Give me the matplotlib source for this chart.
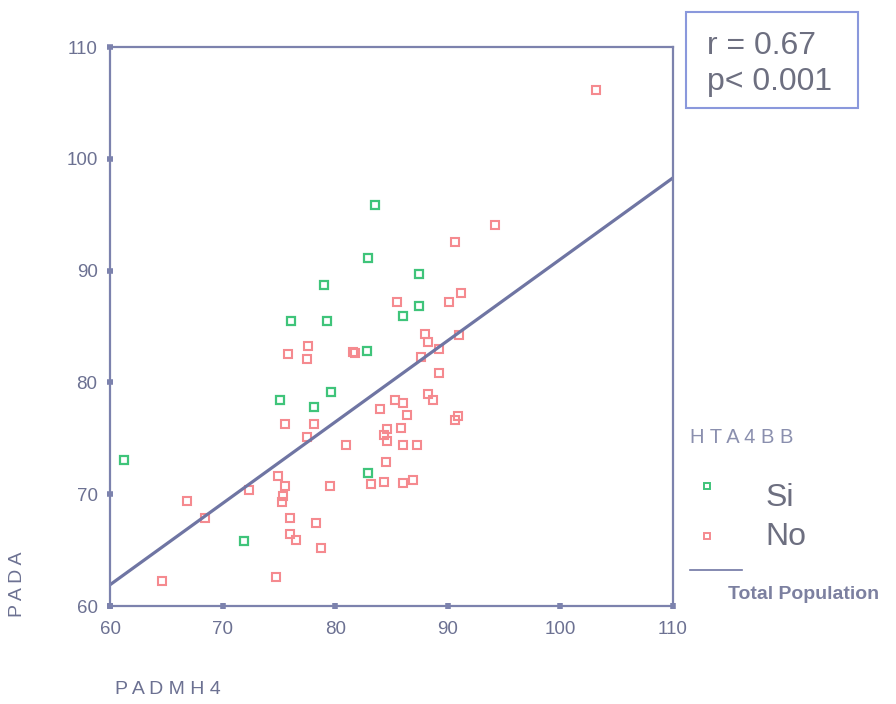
import matplotlib
matplotlib.use("Agg")
import matplotlib.pyplot as plt
from matplotlib.lines import Line2D
from matplotlib.patches import Rectangle
import numpy as np

plt.rcParams['font.family'] = ['Liberation Sans', 'DejaVu Sans']

# Data
si_x = [61.2, 71.9, 76.1, 75.1, 78.1, 79.0, 79.3, 79.6, 82.9, 82.8, 83.5, 82.9, 87.4, 87.4, 86.0]
si_y = [73.1, 65.8, 85.5, 78.4, 77.8, 88.7, 85.5, 79.1, 91.1, 82.8, 95.9, 71.9, 89.7, 86.8, 85.9]

no_x = [103.2, 94.2, 90.6, 91.2, 90.1, 85.5, 77.6, 81.6, 81.8, 75.8, 77.5,
        88.0, 88.2, 91.0, 89.2, 87.6, 89.2, 88.2, 88.7, 85.3, 86.0, 84.0,
        86.4, 90.9, 90.6, 84.6, 85.8, 84.3, 84.6, 86.0, 87.3, 81.0, 75.5,
        78.1, 77.5, 84.5, 83.2, 84.3, 86.0, 86.9, 74.9, 75.5, 79.5, 72.3,
        66.8, 75.4, 75.3, 68.4, 76.0, 78.3, 76.0, 76.5, 78.7, 74.7, 64.6]
no_y = [106.2, 94.1, 92.6, 88.0, 87.2, 87.2, 83.3, 82.7, 82.6, 82.5, 82.1,
        84.3, 83.6, 84.2, 83.0, 82.3, 80.8, 79.0, 78.4, 78.4, 78.2, 77.6,
        77.1, 77.0, 76.6, 75.8, 75.9, 75.3, 74.8, 74.4, 74.4, 74.4, 76.3,
        76.3, 75.1, 72.9, 70.9, 71.1, 71.0, 71.3, 71.6, 70.7, 70.7, 70.4,
        69.4, 69.8, 69.3, 67.9, 67.9, 67.4, 66.4, 65.9, 65.2, 62.6, 62.2]

# regression line (Total Population)
fit_intercept = 61.9   # value at x = 60
fit_slope = 0.728
fit_x = np.array([60, 110])

ticks = [60, 70, 80, 90, 100, 110]

axis_col = '#7c82ad'
label_col = '#6c7192'
green = '#3fc47a'
pink = '#f58a8f'

fig = plt.figure(figsize=(8.96, 7.04), dpi=100)
ax = fig.add_axes([0.1228, 0.1392, 0.6283, 0.794])

ax.plot(si_x, si_y, 's', markersize=6.3, markerfacecolor='none',
        markeredgecolor=green, markeredgewidth=1.6, linestyle='none')
ax.plot(no_x, no_y, 's', markersize=6.3, markerfacecolor='none',
        markeredgecolor=pink, markeredgewidth=1.5, linestyle='none')
ax.plot(fit_x, fit_intercept + fit_slope * (fit_x - 60), color='#6f75a3', lw=2.3)

ax.set_xlim(60, 110)
ax.set_ylim(60, 110)
ax.set_xticks(ticks)
ax.set_yticks(ticks)
ax.set_xticklabels([str(t) for t in ticks])
ax.set_yticklabels([str(t) for t in ticks])
for s in ax.spines.values():
    s.set_color(axis_col)
    s.set_linewidth(1.6)
ax.tick_params(direction='inout', length=4, width=4, color=axis_col,
               labelcolor=label_col, labelsize=13.5)
ax.tick_params(axis='x', pad=9)
ax.tick_params(axis='y', pad=7)

# axis titles
fig.text(0.020, 0.170, 'P A D A', rotation=90, ha='center', va='center',
         color=label_col, fontsize=14)
fig.text(0.1875, 0.020, 'P A D M H 4', ha='center', va='center',
         color=label_col, fontsize=14)

# stats box
fig.add_artist(Rectangle((0.7656, 0.8466), 0.192, 0.1364, transform=fig.transFigure,
                         fill=False, edgecolor='#8a98dc', lw=1.5))
fig.text(0.789, 0.934, 'r = 0.67', ha='left', va='center', color='#6d6f80', fontsize=23)
fig.text(0.789, 0.884, 'p< 0.001', ha='left', va='center', color='#6d6f80', fontsize=23)

# legend
fig.text(0.770, 0.379, 'H T A 4 B B', ha='left', va='center', color='#8a8fae', fontsize=14.5)
fig.add_artist(Line2D([0.789], [0.310], transform=fig.transFigure, marker='s', markersize=5,
                      markerfacecolor='none', markeredgecolor=green, markeredgewidth=1.4))
fig.add_artist(Line2D([0.789], [0.2386], transform=fig.transFigure, marker='s', markersize=5,
                      markerfacecolor='none', markeredgecolor=pink, markeredgewidth=1.4))
fig.text(0.854, 0.2926, 'Si', ha='left', va='center', color='#6d6f80', fontsize=23)
fig.text(0.854, 0.237, 'No', ha='left', va='center', color='#6d6f80', fontsize=23)
fig.add_artist(Line2D([0.770, 0.828], [0.190, 0.190], transform=fig.transFigure,
                      color='#6f75a3', lw=1.2))
fig.text(0.8125, 0.156, 'Total Population', ha='left', va='center', color='#7c80a0',
         fontsize=14, fontweight='bold')

fig.savefig('out.png', dpi=100)
